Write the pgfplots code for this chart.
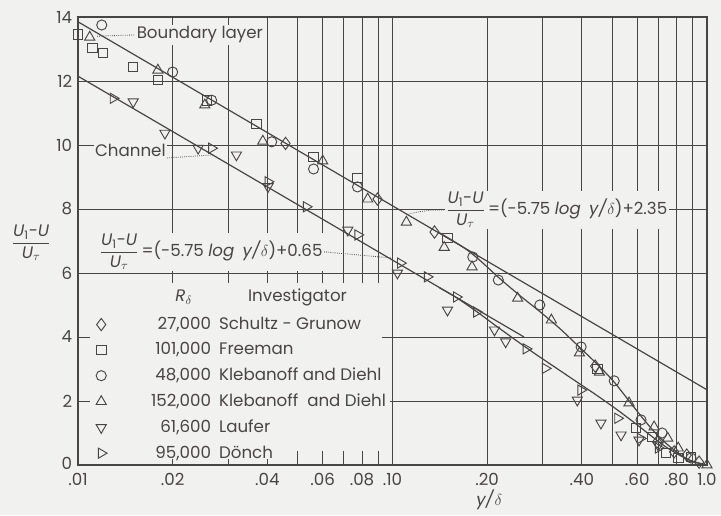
\documentclass[border=0pt]{standalone}
\usepackage{amsmath}
\usepackage{fontspec}
\setmainfont{Poppins}
\usepackage{pgfplots}
\pgfplotsset{compat=1.18}
\definecolor{bg}{RGB}{241,241,239}
\definecolor{ink}{RGB}{72,70,68}
\newcommand{\fs}{\fontsize{12.5}{15}\selectfont}
\newcommand{\frU}{\ensuremath{\dfrac{\text{\itshape U\textsubscript{\upshape 1}\upshape -\itshape U}}{\text{\itshape U}_{\tau}}}}
\newcommand{\num}[1]{\makebox[77pt][r]{#1}\hspace{6pt}}
\pgfplotsset{
  mk/.style={only marks, ink, line width=0.7pt,
    legend image code/.code={\draw[mark repeat=2,mark phase=2,##1] plot coordinates {(0cm,0cm) (0.15cm,0cm) (0.3cm,0cm)};}},
}
\begin{document}
\fs
\begin{tikzpicture}[font=\fs]
\useasboundingbox (0,0) rectangle (540.75pt,386.25pt);
\fill[bg] (0,0) rectangle (540.75pt,386.25pt);
\begin{axis}[
  at={(58.5pt,37.5pt)}, anchor=south west,
  width=471.75pt, height=336pt, scale only axis,
  xmode=log, xmin=0.01, xmax=1, ymin=0, ymax=14,
  xtick={0.01,0.02,0.03,0.04,0.05,0.06,0.07,0.08,0.09,0.1,0.2,0.3,0.4,0.5,0.6,0.7,0.8,0.9,1},
  xticklabels={.01,.02,{},.04,{},.06,{},.08,{},.10,.20,{},.40,{},.60,{},.80,{},1.0},
  ytick={0,2,4,6,8,10,12,14}, yticklabels={\raisebox{2pt}{0},2,4,6,8,10,12,14},
  grid=major, major grid style={ink, line width=0.6pt},
  major tick length=0pt,
  axis line style={ink, line width=0.8pt},
  tick label style={text=ink, font=\fs},
  xticklabel style={yshift=-1.5pt},
  clip=false,
  legend style={at={(axis cs:0.0114,4.67)}, anchor=north west, draw=none, fill=none,
    inner sep=0pt, row sep=6pt, text=ink, font=\fs, nodes={inner sep=1pt}, cells={anchor=west}},
]
% blank legend field
\fill[bg] (axis cs:0.0101,0.04) rectangle (axis cs:0.0925,5.97);
\fill[bg] (axis cs:0.0925,0.04) rectangle (axis cs:0.0985,2.9);
\pgfplotsinvokeforeach{0.02,0.03,0.04}{\draw[ink,line width=0.6pt] (axis cs:#1,0) -- (axis cs:#1,0.2);}
\pgfplotsinvokeforeach{0.05,0.06,0.07,0.08,0.09}{\draw[ink,line width=0.6pt] (axis cs:#1,0) -- (axis cs:#1,0.45);}
\pgfplotsinvokeforeach{0.02,0.03,0.04,0.05,0.06,0.07,0.08,0.09}{\draw[ink,line width=0.6pt] (axis cs:#1,6) -- (axis cs:#1,5.7);}
\pgfplotsinvokeforeach{2,4}{\draw[ink,line width=0.6pt] (axis cs:0.01,#1) -- (axis cs:0.0109,#1);}

% log-law lines and fitted curves
\addplot[ink, line width=0.9pt, forget plot] coordinates {(0.01,13.85) (1,2.35)};
\addplot[ink, line width=0.9pt, forget plot] coordinates {(0.01,12.15) (0.262,4.0)};
\addplot[ink, line width=0.9pt, smooth, forget plot] coordinates {
 (0.1410,7.26) (0.1693,6.78) (0.1889,6.41) (0.2186,5.84) (0.2530,5.31) (0.2928,4.81)
 (0.3390,4.28) (0.3924,3.69) (0.4541,3.09) (0.5069,2.59) (0.5655,2.00) (0.6310,1.41)
 (0.7040,0.88) (0.7857,0.47) (0.8767,0.16) (1.0,0.0)};
\addplot[ink, line width=0.9pt, smooth, forget plot] coordinates {
 (0.1410,5.54) (0.1597,5.23) (0.1848,4.80) (0.2139,4.34) (0.2475,3.89) (0.2865,3.45)
 (0.3316,3.03) (0.3838,2.61) (0.4442,2.19) (0.5141,1.75) (0.5951,1.28) (0.6643,0.91)
 (0.7412,0.56) (0.8270,0.28) (0.9094,0.09) (1.0,0.0)};

% data
\addplot[mk, mark=diamond, mark size=4.6pt, mark options={fill=bg}] coordinates {
 (0.0457,10.05) (0.0896,8.31) (0.136,7.28) (0.441,3.09) (0.694,0.72) (0.786,0.41)
 (0.862,0.31) (0.944,0.09)};
\addlegendentry{\num{27,000}Schultz - Grunow}
\addplot[mk, mark=square, mark size=3.6pt, mark options={fill=bg}] coordinates {
 (0.0100,13.45) (0.0111,13.03) (0.0120,12.87) (0.01495,12.44) (0.01795,12.03)
 (0.0257,11.4) (0.037,10.66) (0.0561,9.63) (0.0774,8.97) (0.1496,7.09) (0.448,3.0)
 (0.595,1.16) (0.669,0.88) (0.741,0.38) (0.81,0.22) (0.89,0.25)};
\addlegendentry{\num{101,000}Freeman}
\addplot[mk, mark=o, mark size=3.8pt, mark options={fill=bg}] coordinates {
 (0.0119,13.75) (0.0200,12.28) (0.0266,11.4) (0.0413,10.1) (0.0561,9.25) (0.0774,8.69)
 (0.18,6.5) (0.217,5.78) (0.294,5.0) (0.398,3.69) (0.507,2.63) (0.617,1.41) (0.72,1.0)
 (0.89,0.22)};
\addlegendentry{\num{48,000}Klebanoff and Diehl}
\addplot[mk, mark=triangle, mark size=4.4pt, mark options={fill=bg}] coordinates {
 (0.0109,13.37) (0.01795,12.34) (0.0253,11.25) (0.0387,10.12) (0.060,9.5) (0.0834,8.31)
 (0.1107,7.59) (0.146,6.8) (0.179,6.19) (0.25,5.21) (0.32,4.53) (0.393,3.5) (0.455,2.9)
 (0.565,1.94) (0.679,1.19) (0.75,0.84) (0.81,0.53) (1.0,0.0)};
\addlegendentry{\num{152,000}Klebanoff\ \ and Diehl}
\addplot[mk, mark=triangle, mark size=4.4pt, mark options={fill=bg, rotate=180}] coordinates {
 (0.01498,11.35) (0.0189,10.37) (0.0241,9.9) (0.0319,9.69) (0.0402,8.7) (0.0721,7.34)
 (0.1037,6.0) (0.1496,4.84) (0.211,4.22) (0.229,3.85) (0.387,2.03) (0.46,1.31)
 (0.533,0.94) (0.608,0.78) (0.70,0.62)};
\addlegendentry{\num{61,600}Laufer}
\addplot[mk, mark=triangle, mark size=4.4pt, mark options={fill=bg, rotate=-90}] coordinates {
 (0.01294,11.46) (0.0266,9.9) (0.0402,8.85) (0.0532,8.07) (0.0776,7.19) (0.106,6.31)
 (0.129,5.88) (0.1597,5.25) (0.185,4.78) (0.266,3.63) (0.306,3.02) (0.397,2.34)
 (0.52,1.46) (0.614,0.83) (0.70,0.53)};
\addlegendentry{\num{95,000}Dönch}

% annotations
\node[fill=bg, inner sep=1pt, anchor=west, text=ink] (BL) at (axis cs:0.0152,13.44) {Boundary layer};
\draw[ink, densely dotted, line width=0.6pt] (axis cs:0.0115,13.4) -- (BL.west);
\node[fill=bg, inner sep=1pt, anchor=west, text=ink] (CH) at (axis cs:0.0112,9.84) {Channel};
\draw[ink, densely dotted, line width=0.6pt] (CH.south east) -- (axis cs:0.0268,9.69);
\node[fill=bg, inner sep=1pt, anchor=west, text=ink] (E1) at (axis cs:0.1462,7.97)
  {\frU\,=(-5.75 \textit{log}\enspace\textit{y/}$\delta$)+2.35};
\draw[ink, densely dotted, line width=0.6pt] (axis cs:0.1116,7.83) to[out=15,in=180] (E1.west);
\node[fill=bg, inner sep=1pt, anchor=west, text=ink] (E2) at (axis cs:0.01157,6.66)
  {\frU\,=(-5.75 \textit{log}\enspace\textit{y/}$\delta$)+0.65};
\draw[ink, densely dotted, line width=0.6pt] (E2.east) -- (axis cs:0.099,6.47);
\node[text=ink] at (axis cs:0.0217,5.25) {\textit{R}$_\delta$};
\node[text=ink] at (axis cs:0.0499,5.25) {Investigator};
\node[text=ink] at (axis cs:0.0071,6.95) {\frU};
\node[text=ink] at (axis cs:0.203,-1.09) {\textit{y/}$\delta$};
\end{axis}
\end{tikzpicture}
\end{document}
